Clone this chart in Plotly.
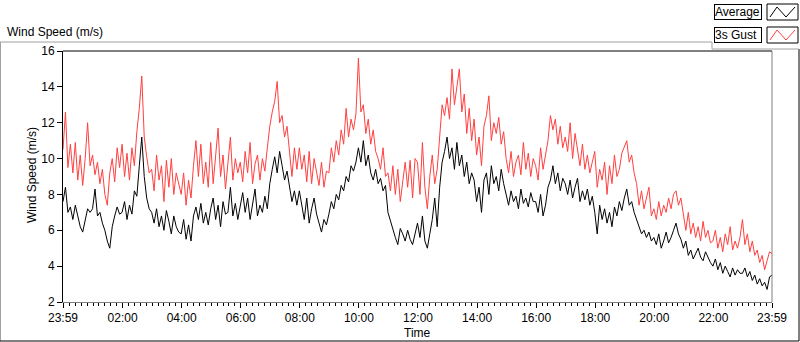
import pandas as pd
import plotly.graph_objects as go

# ---------------- data (5-minute samples) ----------------
start_time = "2024-01-01 23:59"
n_points = 289
step = "5min"

average = [
    7.6, 8.4, 7.0, 7.3, 6.6, 7.4, 6.8, 6.2, 5.9, 6.6, 7.2, 7.0,
    7.2, 8.3, 6.8, 7.0, 6.4, 6.0, 5.4, 5.0, 6.2, 6.8, 7.3, 6.9,
    7.0, 7.6, 6.6, 7.4, 6.9, 8.2, 7.9, 9.6, 11.2, 9.0, 7.8, 7.2,
    7.0, 6.4, 7.2, 6.2, 6.8, 6.0, 7.1, 6.5, 5.8, 6.8, 6.2, 5.9,
    5.8, 6.6, 5.5, 6.3, 5.4, 6.8, 7.3, 6.6, 7.5, 6.4, 7.0, 6.3,
    7.2, 7.8, 6.6, 7.4, 6.2, 7.6, 6.9, 7.0, 8.4, 6.8, 7.5, 6.6,
    7.4, 8.1, 7.0, 7.8, 6.6, 7.5, 8.3, 6.8, 7.4, 7.0, 7.9, 7.2,
    8.6, 9.4, 10.1, 9.2, 10.4, 9.6, 8.8, 9.3, 8.4, 7.6, 8.2, 7.4,
    8.2, 7.4, 6.6, 7.8, 6.4, 7.2, 7.8, 6.9, 6.4, 5.9, 6.6, 6.3,
    6.9, 7.6, 7.2, 8.0, 7.7, 8.5, 8.2, 9.0, 8.7, 9.6, 9.3, 9.8,
    10.6, 9.8, 11.0, 9.6, 10.2, 9.2, 8.8, 9.4, 8.6, 8.9, 8.2, 8.5,
    7.0, 6.5, 6.0, 5.6, 5.2, 6.1, 5.8, 5.4, 6.0, 5.5, 5.2, 5.8,
    6.4, 5.6, 6.8, 5.4, 5.0, 5.8, 6.6, 7.8, 6.2, 8.4, 9.8, 10.4,
    11.2, 10.0, 10.6, 9.4, 10.9, 9.6, 10.2, 9.0, 9.8, 8.6, 9.2, 8.8,
    7.6, 8.4, 7.0, 8.8, 9.2, 8.0, 9.6, 8.6, 9.0, 8.2, 9.4, 8.6,
    8.0, 7.4, 8.2, 7.6, 7.9, 7.2, 8.3, 7.5, 7.8, 7.3, 8.1, 7.6,
    7.6, 7.0, 8.0, 6.8, 7.4, 8.4, 8.8, 9.6, 8.6, 9.2, 8.2, 8.9,
    8.6, 8.0, 8.8, 7.8, 8.4, 8.9, 7.6, 8.2, 7.7, 8.3, 7.4, 7.9,
    7.0, 5.8, 7.4, 6.6, 7.2, 6.4, 7.0, 6.2, 7.3, 6.8, 7.6, 7.1,
    7.8, 8.3, 7.4, 7.6, 7.0, 6.6, 6.2, 5.8, 6.0, 5.6, 5.9, 5.4,
    5.6, 5.2, 5.8, 5.0, 5.4, 5.9, 5.3, 5.6, 6.0, 6.4, 5.8, 5.5,
    5.0, 5.4, 4.6, 4.9, 4.4, 4.7, 5.0, 4.5, 4.3, 4.8, 4.5, 4.2,
    4.0, 4.4, 3.8, 4.2, 3.6, 4.0, 3.7, 3.4, 3.9, 3.5, 3.8, 3.6,
    3.6, 3.9, 3.4, 3.7, 3.2, 3.5, 3.0, 3.3, 2.9, 3.1, 2.7, 3.4,
    3.5,
]

gust_3s = [
    10.5, 12.6, 9.5, 10.8, 9.2, 10.9, 8.8, 10.2, 8.5, 10.0, 12.0, 9.6,
    10.2, 9.1, 9.8, 8.6, 9.4, 8.0, 7.4, 9.2, 10.0, 8.7, 10.6, 9.5,
    10.8, 9.0, 10.3, 8.8, 10.6, 9.6, 11.5, 12.8, 14.6, 11.2, 10.1, 9.2,
    9.4, 8.2, 10.2, 8.8, 9.6, 7.6, 9.9, 8.4, 10.0, 8.0, 9.2, 8.6,
    8.0, 9.2, 7.4, 8.8, 7.8, 9.6, 11.0, 9.0, 10.8, 8.6, 9.8, 8.4,
    10.9, 8.6, 10.4, 11.7, 9.0, 10.2, 8.3, 9.6, 11.2, 8.8, 10.0, 9.2,
    9.8, 8.7, 10.4, 9.2, 10.9, 8.6, 9.7, 10.2, 8.8, 10.0, 9.3, 10.6,
    11.8, 12.6, 13.2, 14.3, 12.0, 12.4, 11.2, 11.8, 10.2, 9.0, 10.6, 9.4,
    10.6, 9.4, 10.2, 8.7, 10.4, 8.6, 10.0, 9.2, 8.5, 9.8, 8.4, 9.3,
    9.2, 10.6, 9.8, 11.0, 10.2, 11.6, 10.8, 12.8, 11.2, 12.2, 11.6, 12.5,
    15.6, 12.6, 13.0, 11.4, 12.2, 10.8, 11.6, 10.4, 10.0, 9.4, 10.6, 9.0,
    9.2, 8.2, 9.6, 8.0, 9.4, 7.6, 8.8, 9.8, 8.4, 9.9, 7.8, 10.0,
    9.8, 8.0, 10.9, 8.4, 7.2, 9.0, 10.2, 8.6, 9.4, 11.4, 13.0, 12.4,
    13.4, 12.2, 15.0, 13.0, 14.0, 15.0, 12.6, 13.6, 11.4, 12.8, 11.0, 12.2,
    10.2, 11.2, 9.6, 11.8, 12.4, 13.5, 11.0, 12.0, 11.4, 12.3, 10.8, 11.5,
    10.0, 9.2, 10.4, 9.0, 9.8, 10.2, 9.1, 10.9, 9.4, 10.3, 9.0, 10.0,
    9.6, 8.8, 10.6, 9.4, 10.2, 11.0, 12.4, 11.6, 12.2, 10.8, 11.8, 10.6,
    11.2, 10.4, 12.0, 10.0, 11.4, 10.6, 9.6, 10.8, 9.4, 10.2, 9.2, 9.8,
    10.4, 8.4, 9.4, 8.8, 9.8, 8.0, 9.6, 8.6, 10.2, 9.0, 9.4, 10.3,
    10.6, 11.0, 9.8, 10.2, 9.2, 8.6, 7.4, 8.2, 7.2, 7.8, 8.4, 6.8,
    7.2, 6.6, 7.6, 6.8, 7.4, 7.0, 7.8, 7.2, 8.0, 8.2, 7.4, 7.8,
    6.8, 6.0, 7.0, 5.8, 6.4, 5.6, 6.2, 5.4, 6.5, 5.6, 6.0, 5.3,
    5.4, 6.0, 5.0, 5.6, 4.8, 5.8, 5.2, 6.2, 4.9, 5.4, 5.0, 5.6,
    6.6, 5.2, 5.8, 4.8, 5.4, 4.6, 4.9, 4.2, 4.6, 3.8, 4.3, 4.8,
    4.7,
]

tick_times = ["2024-01-01 23:59", "2024-01-02 02:00", "2024-01-02 04:00",
              "2024-01-02 06:00", "2024-01-02 08:00", "2024-01-02 10:00",
              "2024-01-02 12:00", "2024-01-02 14:00", "2024-01-02 16:00",
              "2024-01-02 18:00", "2024-01-02 20:00", "2024-01-02 22:00",
              "2024-01-02 23:59"]
tick_labels = ["23:59", "02:00", "04:00", "06:00", "08:00", "10:00", "12:00",
               "14:00", "16:00", "18:00", "20:00", "22:00", "23:59"]
y_ticks = [2, 4, 6, 8, 10, 12, 14, 16]

times = pd.date_range(start_time, periods=n_points, freq=step)

# ---------------- geometry helpers ----------------
W, H = 800, 342
L, R, T, B = 63, 28, 51, 40
PW, PH = W - L - R, H - T - B


def fx(px):
    return (px - L) / PW


def fy(py):
    return (H - B - py) / PH


FONT = "Liberation Sans"
RED = "#FF4040"

fig = go.Figure()
fig.add_trace(go.Scatter(x=times, y=gust_3s, mode="lines", name="3s Gust",
                         line=dict(color=RED, width=1), hoverinfo="skip"))
fig.add_trace(go.Scatter(x=times, y=average, mode="lines", name="Average",
                         line=dict(color="#000000", width=1), hoverinfo="skip"))

shapes = []


def line(x0, y0, x1, y1, color, width=1):
    shapes.append(dict(type="line", xref="paper", yref="paper",
                       x0=fx(x0), y0=fy(y0), x1=fx(x1), y1=fy(y1),
                       line=dict(color=color, width=width), layer="above"))


# plot frame: top black, right grey
line(63, 51, 772, 51, "#000000")
line(772, 51, 772, 302, "#808080")
# outer frame
line(0, 42, 712, 42, "#A0A0A0")
line(0.5, 42, 0.5, 341, "#A0A0A0")
line(0, 341, 799, 341, "#000000")
line(799, 49, 799, 341, "#000000")
line(712, 42, 712, 49, "#A0A0A0")
line(712, 49, 799, 49, "#A0A0A0")

# legend icon boxes + zigzags
for (ytop, ybot, col) in [(4, 20, "#000000"), (27, 43, RED)]:
    shapes.append(dict(type="rect", xref="paper", yref="paper",
                       x0=fx(767), x1=fx(798), y0=fy(ybot), y1=fy(ytop),
                       line=dict(color="#000000", width=1), fillcolor="white",
                       layer="above"))
    pts = [(770, ybot - 3), (777, ytop + 3), (786, ybot - 3), (795, ytop + 3)]
    path = "M " + " L ".join(f"{fx(a)},{fy(b)}" for a, b in pts)
    shapes.append(dict(type="path", xref="paper", yref="paper", path=path,
                       line=dict(color=col, width=1), layer="above"))

annotations = [
    dict(text="Wind Speed (m/s)", xref="paper", yref="paper", x=fx(5), y=fy(32),
         xanchor="left", yanchor="middle", showarrow=False,
         font=dict(family=FONT, size=12, color="#000000")),
    dict(text="Wind Speed (m/s)", xref="paper", yref="paper", x=fx(32), y=fy(175),
         xanchor="center", yanchor="middle", textangle=-90, showarrow=False,
         font=dict(family=FONT, size=12, color="#000000")),
    dict(text="Time", xref="paper", yref="paper", x=fx(417), y=fy(333),
         xanchor="center", yanchor="middle", showarrow=False,
         font=dict(family=FONT, size=12, color="#000000")),
]
for label, ymid in [("Average", 12), ("3s Gust", 35)]:
    annotations.append(dict(text=label, xref="paper", yref="paper",
                            x=fx(714), y=fy(ymid), xanchor="left", yanchor="middle",
                            showarrow=False, bordercolor="#000000", borderwidth=1,
                            borderpad=0, bgcolor="white", width=46, height=14,
                            align="left",
                            font=dict(family=FONT, size=12, color="#000000")))

fig.update_layout(
    width=W, height=H,
    margin=dict(l=L, r=R, t=T, b=B, pad=0),
    paper_bgcolor="white", plot_bgcolor="white",
    showlegend=False,
    shapes=shapes, annotations=annotations,
    font=dict(family=FONT, size=12, color="#000000"),
    xaxis=dict(
        type="date", range=[tick_times[0], tick_times[-1]],
        tickmode="array", tickvals=tick_times, ticktext=tick_labels,
        showgrid=False, zeroline=False,
        showline=True, linecolor="#808080", linewidth=1,
        ticks="outside", ticklen=5, tickcolor="#000000",
        tickfont=dict(family=FONT, size=12, color="#000000"),
        minor=dict(ticks="outside", ticklen=3, tickcolor="#000000",
                   tickmode="linear", tick0="2024-01-02 00:00", dtick=12 * 60 * 1000,
                   showgrid=False),
    ),
    yaxis=dict(
        range=[2, 16], tickmode="array", tickvals=y_ticks,
        showgrid=False, zeroline=False,
        showline=True, linecolor="#000000", linewidth=1,
        ticks="outside", ticklen=5, tickcolor="#000000",
        tickfont=dict(family=FONT, size=12, color="#000000"),
    ),
)

fig.write_html("out.html",
               config={"displayModeBar": False},
               post_script="document.body.style.margin='0';"
                           "document.body.style.overflow='hidden';")
